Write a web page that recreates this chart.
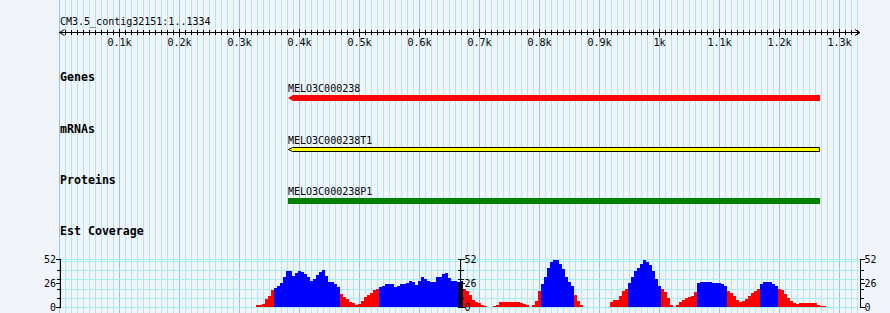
<!DOCTYPE html>
<html>
<head>
<meta charset="utf-8">
<script src="https://cdn.jsdelivr.net/npm/d3@7"></script>
<style>
  body { margin: 0; background: #f1f5fa; }
  svg { display: block; }
  .small { font-family: "DejaVu Sans Mono", monospace; font-size: 10px; fill: #000; }
  .track { font-family: "DejaVu Sans Mono", monospace; font-size: 11.6px; font-weight: bold; fill: #000; }
</style>
</head>
<body>
<div id="chart"></div>
<script>
const width = 890;
const height = 313;

// reference sequence
const title = "CM3.5_contig32151:1..1334";
const seqLength = 1334;
const rulerTicks = [100, 200, 300, 400, 500, 600, 700, 800, 900, 1000, 1100, 1200, 1300];
const rulerLabels = ["0.1k", "0.2k", "0.3k", "0.4k", "0.5k", "0.6k", "0.7k", "0.8k", "0.9k", "1k", "1.1k", "1.2k", "1.3k"];

// tracks and features
const trackNames = ["Genes", "mRNAs", "Proteins", "Est Coverage"];
const featureNames = ["MELO3C000238", "MELO3C000238T1", "MELO3C000238P1"];
const featureStarts = [381, 381, 381];
const featureEnds = [1268, 1268, 1268];
const featureColors = ["#ff0000", "#ffff00", "#008000"];

// EST coverage, one value per 5 bp bin from covStart
const covStart = 328;
const covStep = 5;
const coverage = [
  2, 2, 3, 9, 12, 18, 21, 23, 26, 32,
  39, 39, 34, 37, 39, 38, 36, 32, 28, 30,
  35, 38, 40, 34, 27, 27, 25, 22, 14, 11,
  9, 5, 4, 2, 3, 7, 11, 13, 15, 18,
  20, 22, 23, 25, 25, 25, 22, 23, 25, 25,
  26, 28, 27, 24, 28, 33, 30, 28, 27, 27,
  33, 32, 36, 37, 31, 28, 28, 27, 28, 19,
  17, 13, 8, 5, 4, 2, 1, 0, 0, 1,
  2, 5, 5, 5, 5, 5, 5, 5, 4, 3,
  2, 0, 2, 7, 17, 25, 32, 42, 49, 51,
  51, 47, 41, 33, 27, 23, 13, 6, 2, 0,
  0, 0, 0, 0, 0, 0, 0, 0, 5, 8,
  8, 12, 17, 20, 26, 33, 39, 42, 47, 51,
  49, 45, 39, 30, 23, 19, 16, 10, 2, 0,
  2, 5, 8, 10, 11, 12, 16, 26, 27, 27,
  27, 27, 26, 26, 26, 25, 23, 17, 15, 12,
  8, 5, 6, 9, 12, 15, 17, 19, 25, 27,
  27, 27, 25, 23, 20, 18, 14, 10, 6, 4,
  3, 4, 4, 4, 4, 4, 4, 2, 1, 1
];
const covMax = 52;
const covPivot = 20.5;
const covLabelTicks = [0, 26, 52];
const covMinorTicks = [10, 20, 30, 40];
const covGrid = [0, 10, 20, 30, 40, 50, 52];

const svg = d3
  .select("#chart")
  .append("svg")
  .attr("width", width)
  .attr("height", height)
  .attr("viewBox", [0, 0, width, height]);

let x = d3
  .scaleLinear()
  .domain([0, seqLength])
  .range([59.5, 59.5 + seqLength * 0.6]);

let y = d3
  .scaleLinear()
  .domain([0, covMax])
  .range([307, 259]);

const px = (bp) => Math.floor(x(bp)) + 0.5;

// vertical grid, every 10 bp, darker every 100 bp
const gridBp = d3.range(0, seqLength, 10);
svg
  .append("g")
  .attr("shape-rendering", "crispEdges")
  .selectAll("line")
  .data(gridBp.filter((d) => d % 100 !== 0))
  .join("line")
  .attr("x1", (d) => px(d))
  .attr("x2", (d) => px(d))
  .attr("y1", 0)
  .attr("y2", height)
  .attr("stroke", "#b2e6f0");

svg
  .append("g")
  .attr("shape-rendering", "crispEdges")
  .selectAll("line")
  .data(gridBp.filter((d) => d % 100 === 0))
  .join("line")
  .attr("x1", (d) => px(d))
  .attr("x2", (d) => px(d))
  .attr("y1", 0)
  .attr("y2", height)
  .attr("stroke", "#92c6e8");

// horizontal grid in coverage panel
svg
  .append("g")
  .attr("shape-rendering", "crispEdges")
  .selectAll("line")
  .data(covGrid)
  .join("line")
  .attr("x1", x(0) + 1)
  .attr("x2", x(seqLength))
  .attr("y1", (d) => Math.round(y(d)) + 0.5)
  .attr("y2", (d) => Math.round(y(d)) + 0.5)
  .attr("stroke", "#a6eeee");

// ruler
const rulerY = 32.5;
const ruler = svg.append("g").attr("stroke", "#000").attr("fill", "none");
ruler
  .append("line")
  .attr("x1", x(0))
  .attr("x2", x(seqLength))
  .attr("y1", rulerY)
  .attr("y2", rulerY);
ruler
  .append("path")
  .attr("d", `M${x(0) + 5},${rulerY - 3}L${x(0)},${rulerY}L${x(0) + 5},${rulerY + 3}`);
ruler
  .append("path")
  .attr("d", `M${x(seqLength) - 5},${rulerY - 3}L${x(seqLength)},${rulerY}L${x(seqLength) - 5},${rulerY + 3}`);
ruler
  .selectAll(".minor")
  .data(d3.range(10, seqLength, 10).filter((d) => d % 100 !== 0))
  .join("line")
  .attr("x1", (d) => px(d))
  .attr("x2", (d) => px(d))
  .attr("y1", 30)
  .attr("y2", 35);
ruler
  .selectAll(".major")
  .data(rulerTicks)
  .join("line")
  .attr("x1", (d) => px(d))
  .attr("x2", (d) => px(d))
  .attr("y1", 29)
  .attr("y2", 37);

svg
  .append("g")
  .selectAll("text")
  .data(rulerTicks)
  .join("text")
  .attr("class", "small")
  .attr("x", (d) => px(d))
  .attr("y", 46)
  .attr("text-anchor", "middle")
  .text((d, i) => rulerLabels[i]);

svg
  .append("text")
  .attr("class", "small")
  .attr("x", 60)
  .attr("y", 24.5)
  .text(title);

// track labels
const trackY = [80.5, 132.5, 183.5, 235];
svg
  .append("g")
  .selectAll("text")
  .data(trackNames)
  .join("text")
  .attr("class", "track")
  .attr("x", 60)
  .attr("y", (d, i) => trackY[i])
  .text((d) => d);

// features: gene (red arrow), mRNA (outlined yellow arrow), protein (green box)
const featTop = [95, 147.5, 198];
const featLabelY = [92, 144, 195];
featureNames.forEach((name, i) => {
  let x0 = Math.round(x(featureStarts[i]));
  let x1 = Math.round(x(featureEnds[i]));
  let g = svg.append("g");
  g.append("text")
    .attr("class", "small")
    .attr("x", x0)
    .attr("y", featLabelY[i])
    .text(name);

  if (i === 0) {
    let t = featTop[i];
    g.append("path")
      .attr("d", `M${x0},${t + 3}L${x0 + 5},${t}L${x1},${t}L${x1},${t + 6}L${x0 + 5},${t + 6}Z`)
      .attr("fill", featureColors[i]);
  } else if (i === 1) {
    let t = featTop[i];
    g.append("path")
      .attr("d", `M${x0 + 0.5},${t + 2}L${x0 + 4.5},${t}L${x1 - 0.5},${t}L${x1 - 0.5},${t + 4}L${x0 + 4.5},${t + 4}Z`)
      .attr("fill", featureColors[i])
      .attr("stroke", "#000")
      .attr("stroke-width", 1);
  } else {
    g.append("rect")
      .attr("x", x0)
      .attr("y", featTop[i])
      .attr("width", x1 - x0)
      .attr("height", 6)
      .attr("fill", featureColors[i]);
  }
});

// coverage histogram, blue above pivot, red below
svg
  .append("g")
  .attr("shape-rendering", "crispEdges")
  .selectAll("rect")
  .data(coverage)
  .join("rect")
  .attr("x", (d, i) => x(covStart + i * covStep))
  .attr("width", (d, i) => x(covStart + (i + 1) * covStep) - x(covStart + i * covStep))
  .attr("y", (d) => y(d))
  .attr("height", (d) => y(0) - y(d))
  .attr("fill", (d) => (d > covPivot ? "#0000ff" : "#ff0000"));

// coverage axes: left, middle, right
const axisX = [x(0) + 0.5, Math.round(x(seqLength / 2)) + 0.5, Math.round(x(seqLength)) + 0.5];
const axisSide = [-1, 1, 1];
axisX.forEach((ax, k) => {
  let g = svg.append("g").attr("stroke", "#000").attr("shape-rendering", "crispEdges");
  g.append("line")
    .attr("x1", ax)
    .attr("x2", ax)
    .attr("y1", Math.round(y(covMax)))
    .attr("y2", Math.round(y(0)) + 1);
  g.selectAll(".minor")
    .data(covMinorTicks)
    .join("line")
    .attr("x1", k === 1 ? ax - 3 : ax)
    .attr("x2", ax + axisSide[k] * 3)
    .attr("y1", (d) => Math.round(y(d)) + 0.5)
    .attr("y2", (d) => Math.round(y(d)) + 0.5);
  g.selectAll(".major")
    .data(covLabelTicks)
    .join("line")
    .attr("x1", k === 1 ? ax - 3 : ax)
    .attr("x2", ax + axisSide[k] * 4)
    .attr("y1", (d) => Math.round(y(d)) + 0.5)
    .attr("y2", (d) => Math.round(y(d)) + 0.5);

  svg
    .append("g")
    .selectAll("text")
    .data(covLabelTicks)
    .join("text")
    .attr("class", "small")
    .attr("x", ax + axisSide[k] * 4)
    .attr("y", (d) => y(d))
    .attr("dy", "0.35em")
    .attr("text-anchor", axisSide[k] < 0 ? "end" : "start")
    .text((d) => d);
});

// dark block where the middle axis crosses the coverage bars
const midBin = Math.floor((seqLength / 2 - covStart) / covStep);
svg
  .append("rect")
  .attr("x", axisX[1] - 2)
  .attr("width", 4)
  .attr("y", y(coverage[midBin]))
  .attr("height", y(0) - y(coverage[midBin]))
  .attr("fill", "#000");
</script>
</body>
</html>
